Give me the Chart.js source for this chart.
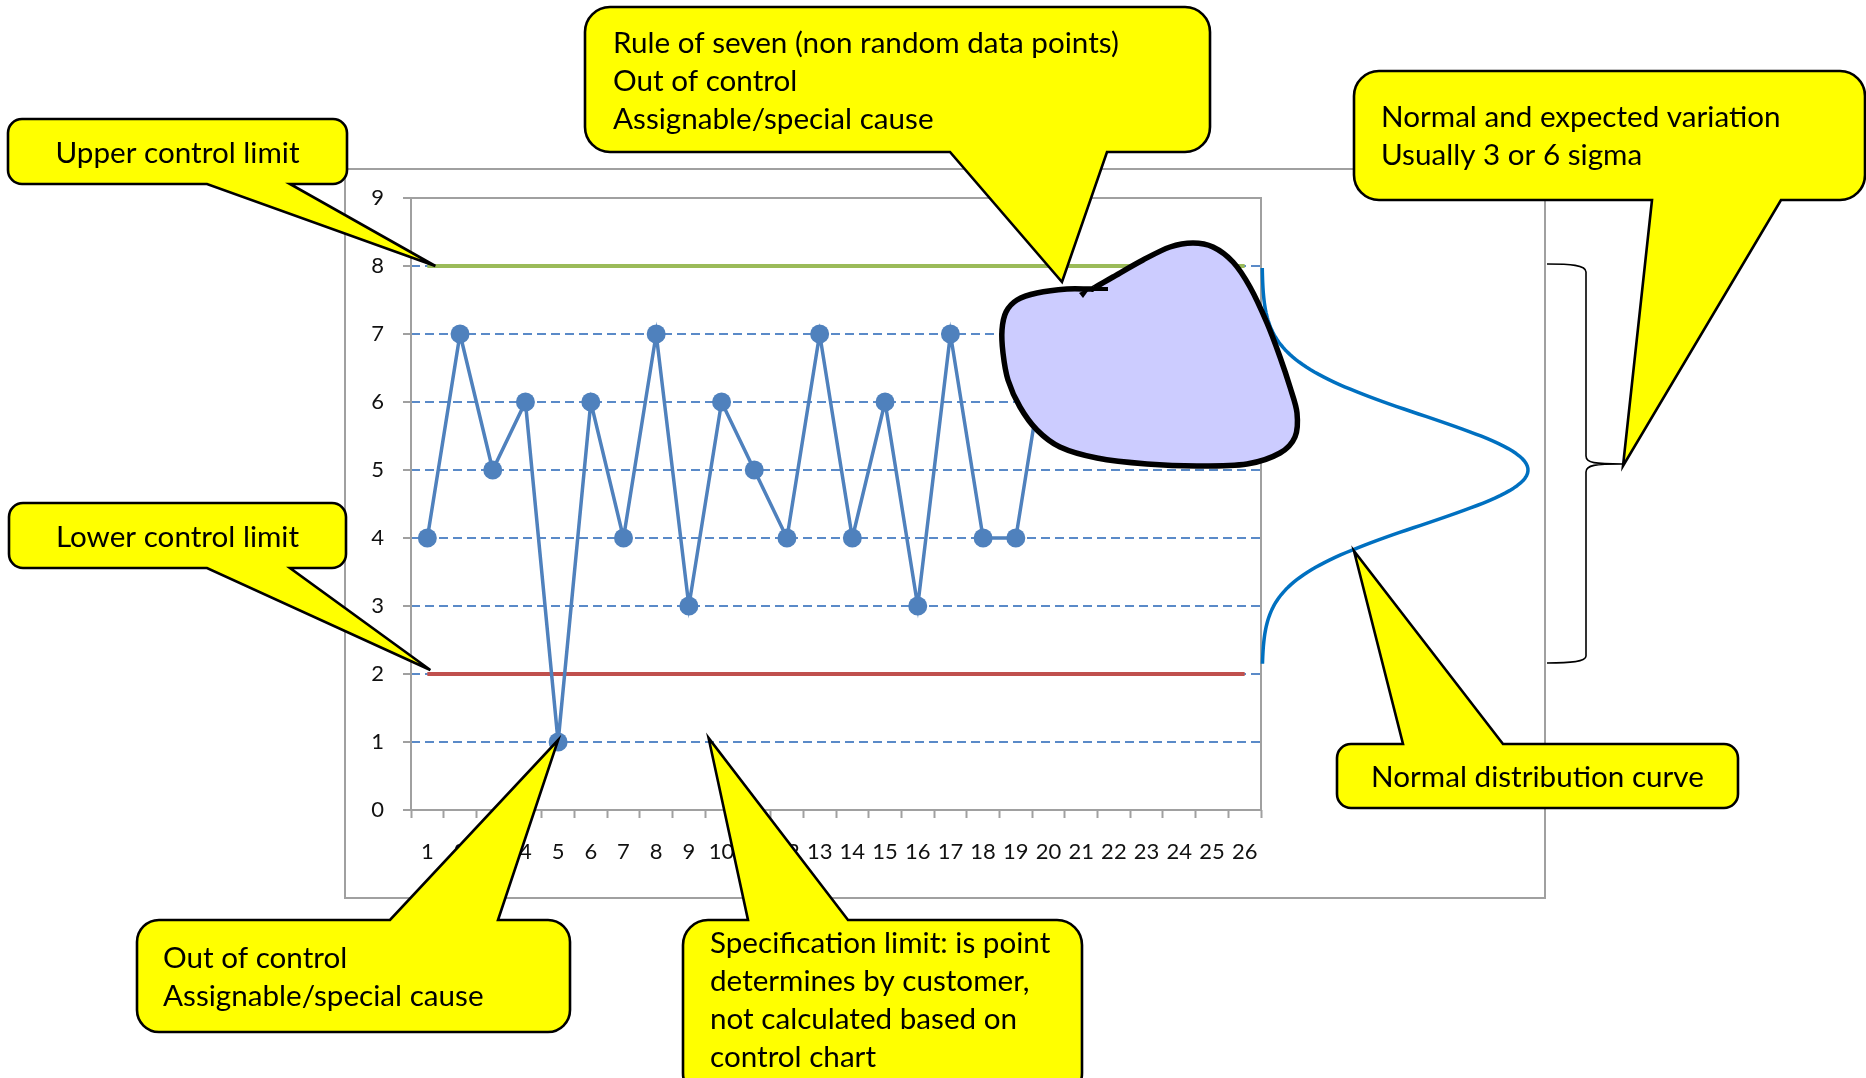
<!DOCTYPE html>
<html>
<head>
<meta charset="utf-8">
<title>Control chart</title>
<script src="https://cdn.jsdelivr.net/npm/chart.js@4.4.1/dist/chart.umd.min.js"></script>
<style>
  html, body { margin: 0; padding: 0; background: #ffffff; overflow: hidden; }
  #wrap { position: relative; width: 1866px; height: 1078px; }
</style>
</head>
<body>
<div id="wrap"><canvas id="chart"></canvas></div>
<script>
// ---- data ----
const categories = ['1','2','3','4','5','6','7','8','9','10','11','12','13',
                    '14','15','16','17','18','19','20','21','22','23','24','25','26'];
const measurements = [4, 7, 5, 6, 1, 6, 4, 7, 3, 6, 5, 4, 7, 4, 6, 3, 7, 4, 4, 7, 6, 7, 6, 6, 7, 6];
const upperControl = [8, 8, 8, 8, 8, 8, 8, 8, 8, 8, 8, 8, 8, 8, 8, 8, 8, 8, 8, 8, 8, 8, 8, 8, 8, 8];
const lowerControl = [2, 2, 2, 2, 2, 2, 2, 2, 2, 2, 2, 2, 2, 2, 2, 2, 2, 2, 2, 2, 2, 2, 2, 2, 2, 2];
const yMin = 0, yMax = 9, yStep = 1;

// ---- styling ----
const BLUE = '#4F81BD', GREEN = '#9BBB59', RED = '#C0504D';
const GRIDBLUE = '#5A8AC8';
const FRAME = '#a0a0a0';
const LABEL = '#111111';
const TEXT_FONT = 'Lato, "Open Sans", sans-serif';

// normal curve drawn beside the plot, in y-axis units
const bell = { mean: 5, sd: 0.8, from: 2.15, to: 7.97, width: 266 };

// freeform highlight shape over the last run of points
const blobOutline = [
  [1090, 289], [1067, 289], [1037, 293], [1017, 300], [1006, 312], [1002, 330],
  [1003, 353], [1008, 380], [1020, 407], [1037, 430], [1060, 447], [1097, 458],
  [1147, 464], [1197, 466], [1247, 464], [1280, 453], [1295, 437], [1297, 413],
  [1290, 387], [1280, 357], [1267, 323], [1250, 287], [1233, 262], [1213, 247],
  [1193, 243], [1170, 247], [1143, 260], [1113, 277], [1094, 288]
];

// speech-bubble callouts
const callouts = [
  { lines: ['Upper control limit'], box: [8, 119, 339, 65], r: 14, side: 'bottom',
    base: [207, 290], tip: { i: 0, v: 8, dx: 8, dy: 0 }, align: 'center', textY: [163] },
  { lines: ['Lower control limit'], box: [9, 503, 337, 65], r: 14, side: 'bottom',
    base: [207, 290], tip: { i: 0, v: 2, dx: 3, dy: -4 }, align: 'center', textY: [547] },
  { lines: ['Rule of seven (non random data points)', 'Out of control', 'Assignable/special cause'],
    box: [585, 7, 625, 145], r: 25, side: 'bottom', base: [950, 1107], tip: [1062, 282],
    align: 'left', textX: 613, textY: [53, 91, 129] },
  { lines: ['Normal and expected variation', 'Usually 3 or 6 sigma'],
    box: [1354, 71, 511, 129], r: 25, side: 'bottom', base: [1652, 1781], tip: [1623, 466],
    align: 'left', textX: 1381, textY: [127, 165] },
  { lines: ['Normal distribution curve'], box: [1337, 744, 401, 64], r: 14, side: 'top',
    base: [1403, 1503], tip: [1354, 551], align: 'center', textY: [787] },
  { lines: ['Out of control', 'Assignable/special cause'], box: [137, 920, 433, 112], r: 22, side: 'top',
    base: [390, 498], tip: { i: 4, v: 1, dx: 0, dy: -2 }, align: 'left', textX: 163, textY: [968, 1006] },
  { lines: ['Specification limit: is point', 'determines by customer,', 'not calculated based on', 'control chart'],
    box: [683, 920, 399, 178], r: 25, side: 'top', base: [748, 848], tip: { i: 9, v: 1, dx: -13, dy: -4 },
    align: 'left', textX: 710, textY: [953, 991, 1029, 1067] }
];

function catmullRomClosed(ctx, pts) {
  const n = pts.length;
  ctx.moveTo(pts[0][0], pts[0][1]);
  for (let i = 0; i < n; i++) {
    const p0 = pts[(i - 1 + n) % n], p1 = pts[i], p2 = pts[(i + 1) % n], p3 = pts[(i + 2) % n];
    ctx.bezierCurveTo(
      p1[0] + (p2[0] - p0[0]) / 6, p1[1] + (p2[1] - p0[1]) / 6,
      p2[0] - (p3[0] - p1[0]) / 6, p2[1] - (p3[1] - p1[1]) / 6,
      p2[0], p2[1]);
  }
  ctx.closePath();
}

function resolveTip(chart, tip) {
  if (Array.isArray(tip)) return tip;
  const xs = chart.scales.x, ys = chart.scales.y;
  return [xs.getPixelForValue(tip.i) + tip.dx, ys.getPixelForValue(tip.v) + tip.dy];
}

function calloutPath(ctx, c, tip) {
  const [x, y, w, h] = c.box, r = c.r;
  ctx.beginPath();
  ctx.moveTo(x + r, y);
  if (c.side === 'top') {
    ctx.lineTo(c.base[0], y); ctx.lineTo(tip[0], tip[1]); ctx.lineTo(c.base[1], y);
  }
  ctx.lineTo(x + w - r, y);
  ctx.arcTo(x + w, y, x + w, y + r, r);
  ctx.lineTo(x + w, y + h - r);
  ctx.arcTo(x + w, y + h, x + w - r, y + h, r);
  if (c.side === 'bottom') {
    ctx.lineTo(c.base[1], y + h); ctx.lineTo(tip[0], tip[1]); ctx.lineTo(c.base[0], y + h);
  }
  ctx.lineTo(x + r, y + h);
  ctx.arcTo(x, y + h, x, y + h - r, r);
  ctx.lineTo(x, y + r);
  ctx.arcTo(x, y, x + r, y, r);
  ctx.closePath();
}

const decorations = {
  id: 'decorations',
  beforeDraw(chart) {
    const ctx = chart.ctx;
    ctx.save();
    ctx.fillStyle = '#ffffff';
    ctx.fillRect(0, 0, chart.width, chart.height);
    // outer chart frame
    ctx.strokeStyle = FRAME;
    ctx.lineWidth = 2;
    ctx.strokeRect(345, 169, 1200, 729);
    ctx.restore();
  },
  beforeDatasetsDraw(chart) {
    const { ctx, chartArea: a } = chart;
    ctx.save();
    ctx.strokeStyle = FRAME;
    ctx.lineWidth = 2;
    ctx.strokeRect(a.left, a.top, a.right - a.left, a.bottom - a.top);
    ctx.restore();
  },
  afterDatasetsDraw(chart) {
    const { ctx, chartArea: a } = chart;
    const ys = chart.scales.y;

    // normal distribution curve
    ctx.save();
    ctx.beginPath();
    const steps = 160;
    for (let k = 0; k <= steps; k++) {
      const v = bell.from + (bell.to - bell.from) * k / steps;
      const z = (v - bell.mean) / bell.sd;
      const px = a.right + 1 + bell.width * Math.exp(-0.5 * z * z);
      const py = ys.getPixelForValue(v);
      if (k === 0) ctx.moveTo(px, py); else ctx.lineTo(px, py);
    }
    ctx.strokeStyle = '#0070C0';
    ctx.lineWidth = 3.5;
    ctx.lineJoin = 'round';
    ctx.stroke();
    ctx.restore();

    // highlight shape
    ctx.save();
    ctx.beginPath();
    catmullRomClosed(ctx, blobOutline);
    ctx.fillStyle = '#CCCCFF';
    ctx.fill();
    ctx.strokeStyle = '#000000';
    ctx.lineWidth = 5.5;
    ctx.lineJoin = 'round';
    ctx.stroke();
    // little start mark of the freeform
    ctx.beginPath();
    ctx.moveTo(1089, 289); ctx.lineTo(1108, 289);
    ctx.lineWidth = 4; ctx.stroke();
    ctx.beginPath();
    ctx.moveTo(1079, 293); ctx.lineTo(1091, 287); ctx.lineTo(1083, 298); ctx.closePath();
    ctx.fillStyle = '#000'; ctx.fill();
    ctx.restore();

    // curly brace
    ctx.save();
    ctx.beginPath();
    ctx.moveTo(1547, 264);
    ctx.bezierCurveTo(1570, 264, 1586, 265, 1586, 272);
    ctx.lineTo(1586, 456);
    ctx.bezierCurveTo(1586, 463, 1595, 464, 1623, 464);
    ctx.bezierCurveTo(1595, 464, 1586, 465, 1586, 472);
    ctx.lineTo(1586, 656);
    ctx.bezierCurveTo(1586, 662, 1570, 663, 1547, 663);
    ctx.strokeStyle = '#000';
    ctx.lineWidth = 1.6;
    ctx.stroke();
    ctx.restore();

    // callouts
    ctx.save();
    ctx.font = '29px ' + TEXT_FONT;
    const sx = Math.min(1.1, Math.max(0.8, 244 / ctx.measureText('Upper control limit').width));
    for (const c of callouts) {
      const tip = resolveTip(chart, c.tip);
      calloutPath(ctx, c, tip);
      ctx.fillStyle = '#FFFF00';
      ctx.fill();
      ctx.strokeStyle = '#000000';
      ctx.lineWidth = 2.6;
      ctx.lineJoin = 'miter';
      ctx.miterLimit = 6;
      ctx.stroke();
      ctx.fillStyle = '#000000';
      ctx.textBaseline = 'alphabetic';
      c.lines.forEach((line, k) => {
        const w = ctx.measureText(line).width * sx;
        const x0 = c.align === 'center' ? c.box[0] + (c.box[2] - w) / 2 : c.textX;
        ctx.save();
        ctx.translate(x0, c.textY[k]);
        ctx.scale(sx, 1);
        ctx.textAlign = 'left';
        ctx.fillText(line, 0, 0);
        ctx.restore();
      });
    }
    ctx.restore();
  }
};

new Chart(document.getElementById('chart'), {
  type: 'line',
  data: {
    labels: categories,
    datasets: [
      { label: 'Measurement', data: measurements, borderColor: BLUE, backgroundColor: BLUE,
        borderWidth: 3.5, pointRadius: 9.5, pointBackgroundColor: BLUE, pointBorderWidth: 0,
        tension: 0, fill: false },
      { label: 'UCL', data: upperControl, borderColor: GREEN, borderWidth: 4, pointRadius: 0, fill: false },
      { label: 'LCL', data: lowerControl, borderColor: RED, borderWidth: 4, pointRadius: 0, fill: false }
    ]
  },
  options: {
    responsive: true,
    maintainAspectRatio: false,
    animation: false,
    devicePixelRatio: 1,
    layout: { padding: { left: 345, right: 605, top: 198, bottom: 208 } },
    plugins: { legend: { display: false }, tooltip: { enabled: false } },
    scales: {
      x: {
        type: 'category',
        offset: true,
        grid: { offset: true, drawOnChartArea: false, drawTicks: true, tickLength: 8,
                tickColor: FRAME, tickWidth: 2 },
        border: { display: false },
        ticks: { color: LABEL, font: { family: TEXT_FONT, size: 22 }, padding: 21,
                 maxRotation: 0, autoSkip: false },
        afterFit(scale) { scale.height = 60; }
      },
      y: {
        min: yMin, max: yMax,
        ticks: { stepSize: yStep, color: LABEL, font: { family: TEXT_FONT, size: 22 }, padding: 19 },
        grid: {
          color: (c) => (c.tick && (c.tick.value === yMin || c.tick.value === yMax)) ? 'rgba(0,0,0,0)' : GRIDBLUE,
          lineWidth: 2, tickLength: 8, tickColor: FRAME, tickWidth: 2
        },
        border: { display: false, dash: [9, 5] },
        afterFit(scale) { scale.width = 66; }
      }
    }
  },
  plugins: [decorations]
});
</script>
</body>
</html>
